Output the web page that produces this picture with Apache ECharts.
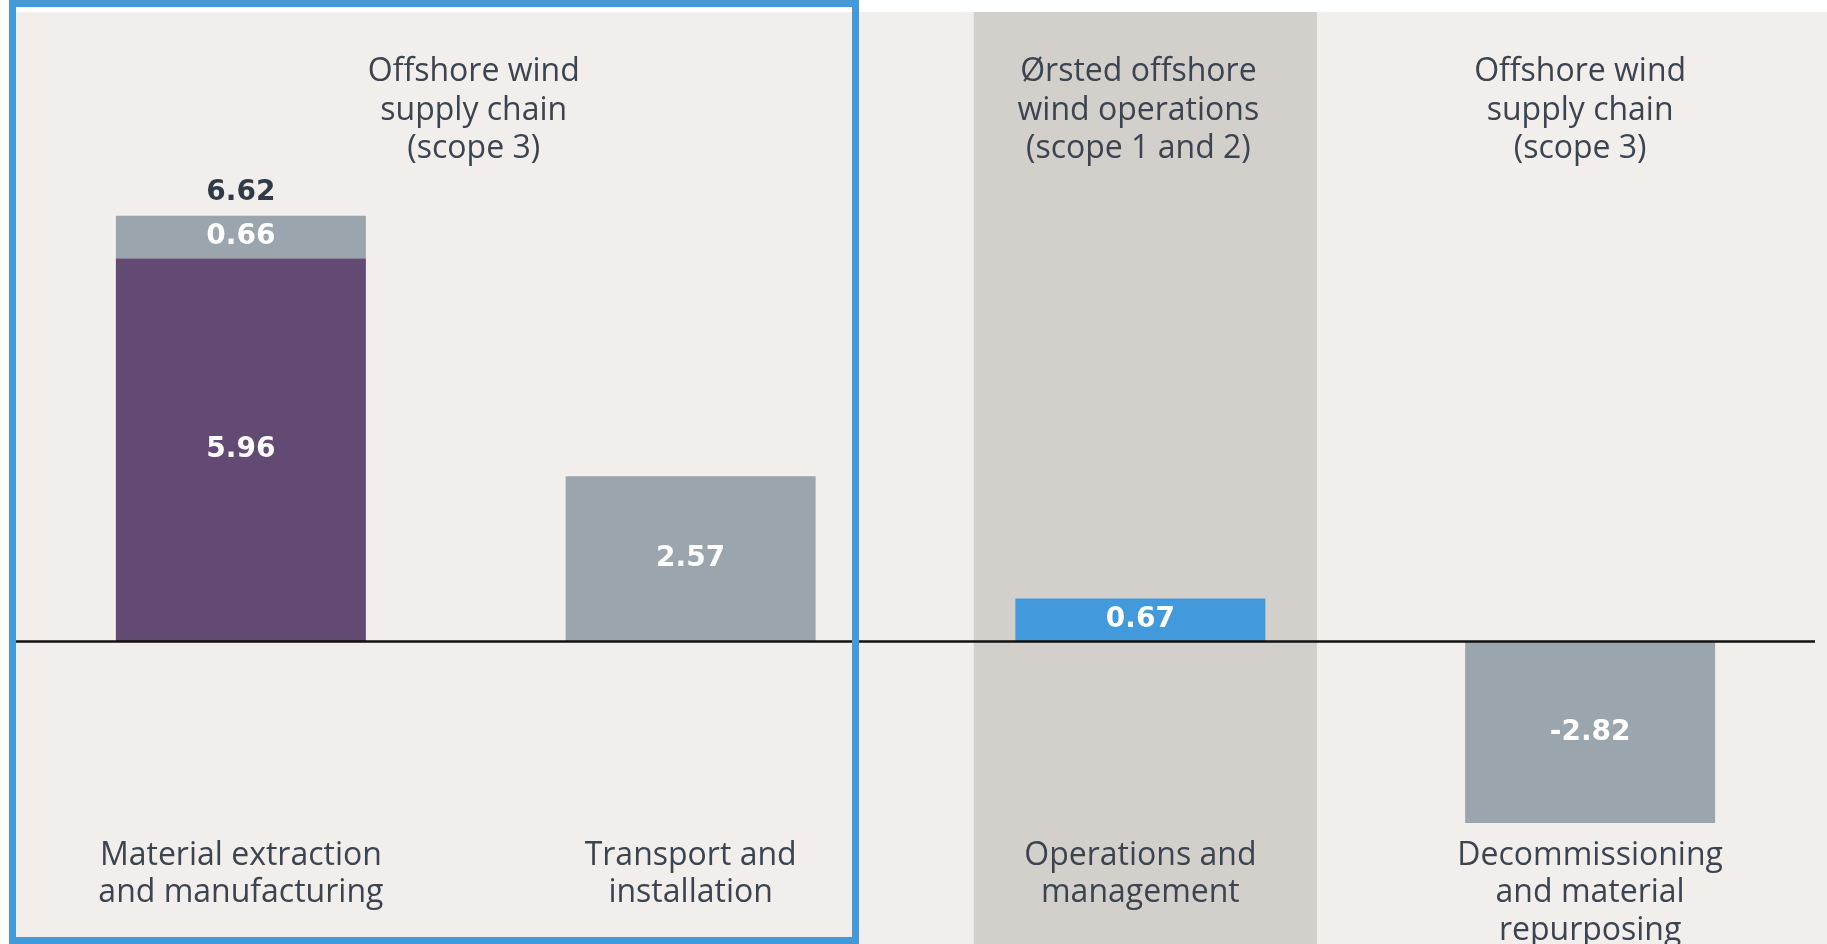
<!DOCTYPE html>
<html>
<head>
<meta charset="utf-8">
<title>Offshore wind life-cycle emissions</title>
<script src="https://cdn.jsdelivr.net/npm/echarts@6/dist/echarts.min.js"></script>
<style>
  html, body { margin: 0; padding: 0; background: #ffffff; }
  #chart { width: 1827px; height: 944px; }
</style>
</head>
<body>
<div id="chart"></div>
<script>
// Life-cycle phases along the x axis
const categories = [
  'Material extraction\nand manufacturing',
  'Transport and\ninstallation',
  'Operations and\nmanagement',
  'Decommissioning\nand material\nrepurposing'
];
// Main value for each phase
const phaseValues = [5.96, 2.57, 0.67, -2.82];
// Additional stacked part on the first phase
const extraValues = [0.66, null, null, null];
// Stack total shown above the first column
const totalValues = [6.62, null, null, null];
// Group headings and the phase indices each one spans
const headerTexts = [
  'Offshore wind\nsupply chain\n(scope 3)',
  'Ørsted offshore\nwind operations\n(scope 1 and 2)',
  'Offshore wind\nsupply chain\n(scope 3)'
];
const headerSpans = [[0, 1], [2, 2], [3, 3]];

const phaseColors = ['#634a72', '#9ba5ae', '#4299dc', '#9ba5ae'];
const FONT = '"Open Sans", "Noto Sans", sans-serif';
const NUM_FONT = '"DejaVu Sans", sans-serif';
const TEXT = '#3b4450';

const chart = echarts.init(document.getElementById('chart'), null, { renderer: 'canvas' });

const valueLabel = {
  show: true,
  position: 'inside',
  color: '#ffffff',
  fontFamily: NUM_FONT,
  fontWeight: 'bold',
  fontSize: 28,
  formatter: p => p.value == null ? '' : p.value.toFixed(2)
};

chart.setOption({
  backgroundColor: '#ffffff',
  animation: false,
  grid: { left: 16, right: 12, top: 12, bottom: 114, containLabel: false, outerBoundsMode: 'none' },
  xAxis: {
    type: 'category',
    data: categories,
    z: 10,
    axisLine: { show: false },
    axisTick: { show: false },
    axisLabel: {
      margin: 7,
      color: TEXT,
      fontFamily: FONT,
      fontSize: 32,
      lineHeight: 37.5,
      interval: 0,
      align: 'center'
    }
  },
  yAxis: {
    type: 'value',
    min: -2.93,
    max: 9.79,
    show: false,
    splitLine: { show: false }
  },
  series: [
    {
      name: 'phase',
      type: 'bar',
      stack: 'life',
      barWidth: 250,
      data: phaseValues.map((v, i) => ({ value: v, itemStyle: { color: phaseColors[i] } })),
      label: valueLabel,
      markLine: {
        silent: true,
        symbol: 'none',
        label: { show: false },
        lineStyle: { color: '#111111', width: 2.5, type: 'solid' },
        data: [{ yAxis: 0 }]
      },
      z: 3
    },
    {
      name: 'extra',
      type: 'bar',
      stack: 'life',
      barWidth: 250,
      data: extraValues,
      itemStyle: { color: '#9ba5ae' },
      label: valueLabel,
      z: 3
    },
    {
      name: 'total',
      type: 'bar',
      barWidth: 250,
      barGap: '-100%',
      data: totalValues,
      itemStyle: { color: 'rgba(0,0,0,0)' },
      label: {
        show: true,
        position: 'top',
        distance: 9,
        color: '#2f3b49',
        fontFamily: NUM_FONT,
        fontWeight: 'bold',
        fontSize: 28,
        formatter: p => p.value == null ? '' : p.value.toFixed(2)
      },
      z: 2
    }
  ]
});

// Panels, group band, headings and frame placed from the axis scale
function drawDecor() {
  const x = i => chart.convertToPixel({ xAxisIndex: 0 }, i);
  const band = x(1) - x(0);
  const headerShift = [8, -2, -10];
  const elements = [
    {
      type: 'rect', z: 0,
      shape: { x: 12, y: 12, width: 1827 - 12, height: 944 - 12 },
      style: { fill: '#f1eeeb' }
    },
    {
      type: 'rect', z: 1,
      shape: { x: x(2) + 5 - band * 0.3815, y: 12, width: band * 0.763, height: 944 - 12 },
      style: { fill: '#d3cfcb' }
    },
    {
      type: 'rect', z: 100,
      shape: { x: 12.5, y: 3.5, width: 843, height: 937 },
      style: { fill: 'none', stroke: '#4499d8', lineWidth: 7 }
    }
  ];
  headerTexts.forEach((t, k) => {
    const cx = (x(headerSpans[k][0]) + x(headerSpans[k][1])) / 2;
    elements.push({
      type: 'text', z: 100,
      x: cx + headerShift[k],
      y: 53,
      style: {
        text: t,
        fill: TEXT,
        font: '32px ' + FONT,
        lineHeight: 38.5,
        align: 'center',
        verticalAlign: 'top'
      }
    });
  });
  chart.setOption({ graphic: { elements } });
}
drawDecor();
</script>
</body>
</html>
